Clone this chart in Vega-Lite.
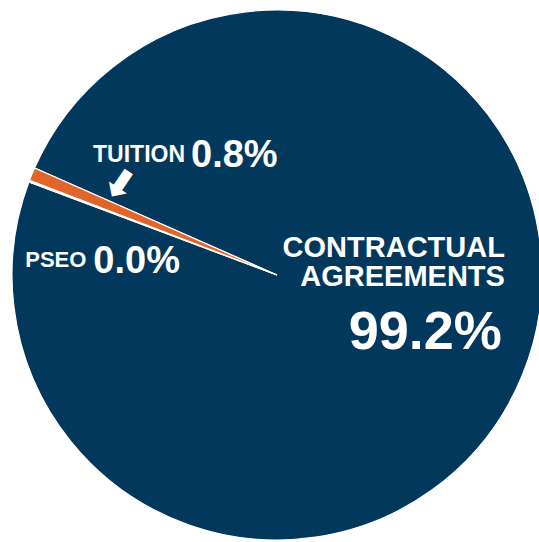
{
  "$schema": "https://vega.github.io/schema/vega-lite/v6.json",
  "width": 524,
  "height": 534,
  "padding": {"left": 15, "top": 8, "right": 0, "bottom": 0},
  "autosize": {"type": "none"},
  "background": "white",
  "config": {"view": {"stroke": null}},
  "data": {
    "values": [
      {"category": "Contractual Agreements", "value": 99.2, "label": "CONTRACTUAL\nAGREEMENTS", "pct": "99.2%"},
      {"category": "PSEO", "value": 0.1, "label": "PSEO", "pct": "0.0%"},
      {"category": "Tuition", "value": 0.8, "label": "TUITION", "pct": "0.8%"}
    ]
  },
  "encoding": {
    "theta": {"field": "value", "type": "quantitative", "stack": true, "scale": {"range": [-1.1554, 5.1278]}},
    "order": {"field": "category", "type": "nominal"},
    "detail": {"field": "category", "type": "nominal"}
  },
  "layer": [
    {
      "mark": {"type": "arc", "radius": 265, "stroke": "white", "strokeWidth": 1.2},
      "encoding": {
        "color": {"field": "category", "type": "nominal", "legend": null,
          "scale": {"domain": ["Contractual Agreements", "PSEO", "Tuition"], "range": ["#02385C", "#FFFFFF", "#E0652B"]}}
      }
    },
    {
      "mark": {"type": "text", "radius": 150, "dx": 89, "dy": -75, "align": "right", "baseline": "alphabetic", "lineBreak": "\n", "lineHeight": 29, "font": "Liberation Sans, Arial, sans-serif", "fontWeight": "bold", "fontSize": 29, "fill": "white"},
      "encoding": {"text": {"condition": {"test": "datum.category === 'Contractual Agreements'", "field": "label", "type": "nominal"}, "value": ""}}
    },
    {
      "mark": {"type": "text", "radius": 150, "dx": 86, "dy": 17, "align": "right", "baseline": "alphabetic", "font": "Liberation Sans, Arial, sans-serif", "fontWeight": "bold", "fontSize": 54, "fill": "white"},
      "encoding": {"text": {"condition": {"test": "datum.category === 'Contractual Agreements'", "field": "pct", "type": "nominal"}, "value": ""}}
    },
    {
      "mark": {"type": "text", "radius": 160, "dx": 56, "dy": -52, "align": "right", "baseline": "alphabetic", "font": "Liberation Sans, Arial, sans-serif", "fontWeight": "bold", "fontSize": 23, "fill": "white"},
      "encoding": {"text": {"condition": {"test": "datum.category === 'Tuition'", "field": "label", "type": "nominal"}, "value": ""}}
    },
    {
      "mark": {"type": "text", "radius": 160, "dx": 62, "dy": -47, "align": "left", "baseline": "alphabetic", "font": "Liberation Sans, Arial, sans-serif", "fontWeight": "bold", "fontSize": 38, "fill": "white"},
      "encoding": {"text": {"condition": {"test": "datum.category === 'Tuition'", "field": "pct", "type": "nominal"}, "value": ""}}
    },
    {
      "mark": {"type": "text", "radius": 160, "dx": -24, "dy": -18, "align": "center", "baseline": "middle", "angle": 34, "font": "DejaVu Sans, sans-serif", "fontWeight": "bold", "fontSize": 40, "fill": "white"},
      "encoding": {"text": {"condition": {"test": "datum.category === 'Tuition'", "value": "⬇"}, "value": ""}}
    },
    {
      "mark": {"type": "text", "radius": 160, "dx": -41, "dy": 49, "align": "right", "baseline": "alphabetic", "font": "Liberation Sans, Arial, sans-serif", "fontWeight": "bold", "fontSize": 22, "fill": "white"},
      "encoding": {"text": {"condition": {"test": "datum.category === 'PSEO'", "field": "label", "type": "nominal"}, "value": ""}}
    },
    {
      "mark": {"type": "text", "radius": 160, "dx": -34, "dy": 55, "align": "left", "baseline": "alphabetic", "font": "Liberation Sans, Arial, sans-serif", "fontWeight": "bold", "fontSize": 38, "fill": "white"},
      "encoding": {"text": {"condition": {"test": "datum.category === 'PSEO'", "field": "pct", "type": "nominal"}, "value": ""}}
    }
  ]
}
